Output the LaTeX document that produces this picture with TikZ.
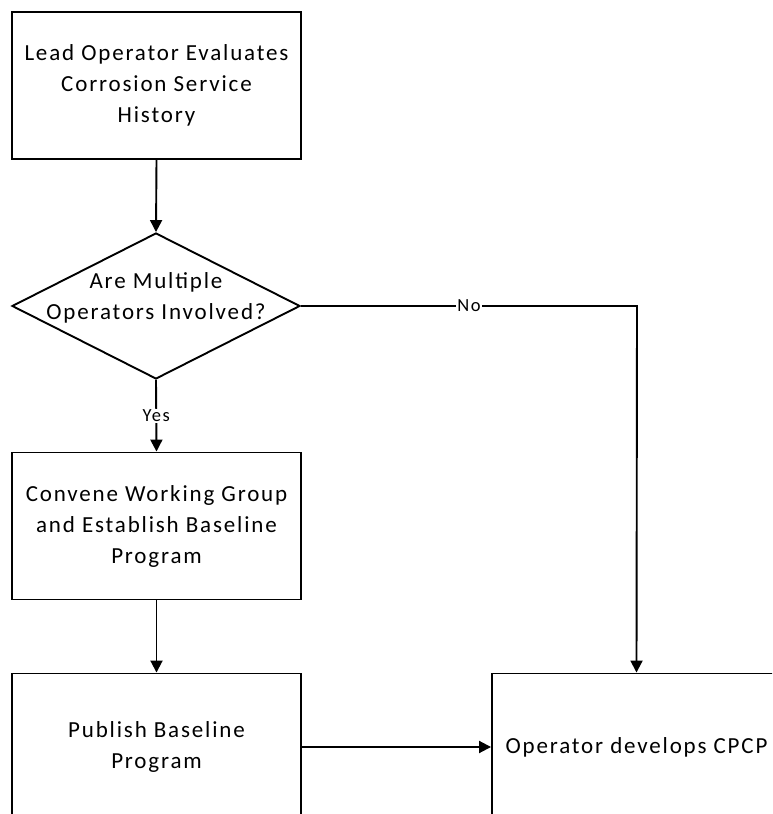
\documentclass[tikz,border=0pt]{standalone}
\usepackage{fontspec}
\setmainfont{Carlito}[LetterSpace=8]
\usetikzlibrary{shapes.geometric,arrows.meta}
\begin{document}
\begin{tikzpicture}[x=1pt,y=1pt,
  box/.style={draw=black,line width=1.9pt,rectangle,minimum width=289pt,minimum height=147pt,inner sep=0pt,align=center,font=\fontsize{23}{31}\selectfont},
  dia/.style={draw=black,line width=1.9pt,diamond,minimum width=288pt,minimum height=146pt,inner sep=0pt},
  txt/.style={align=center,inner sep=0pt,font=\fontsize{23}{31}\selectfont},
  lbl/.style={fill=white,inner sep=1pt,font=\fontsize{18.5}{20}\selectfont},
  conn/.style={line width=1.9pt,-{Triangle[length=12pt,width=12pt]}}]
\useasboundingbox (0,0) rectangle (772,814);
\fill[white] (0,0) rectangle (772,814);
\begin{scope}
\clip (0,0) rectangle (772,814);
\node[box] (b1) at (156.5,728.5) {Lead Operator Evaluates\\Corrosion Service\\History};
\node[dia] (d) at (156,508) {};
\node[txt] (dt) at (156,516) {Are Multiple\\Operators Involved?};
\node[box] (b2) at (156.5,288) {Convene Working Group\\and Establish Baseline\\Program};
\node[box] (b3) at (156.5,67) {Publish Baseline\\Program};
\node[box] (b4) at (636.5,67) {Operator develops CPCP};
\coordinate (c1) at (637,508);
\draw[conn] (b1.south) -- (d.north);
\draw[conn] (d.south) -- node[lbl,pos=0.5] (yes) {Yes} (b2.north);
\draw[conn] (d.east) -- node[lbl,pos=0.5] (no) {No} (c1) -- (b4.north);
\draw[conn] (b2.south) -- (b3.north);
\draw[conn] (b3.east) -- (b4.west);
\end{scope}
\end{tikzpicture}
\end{document}
